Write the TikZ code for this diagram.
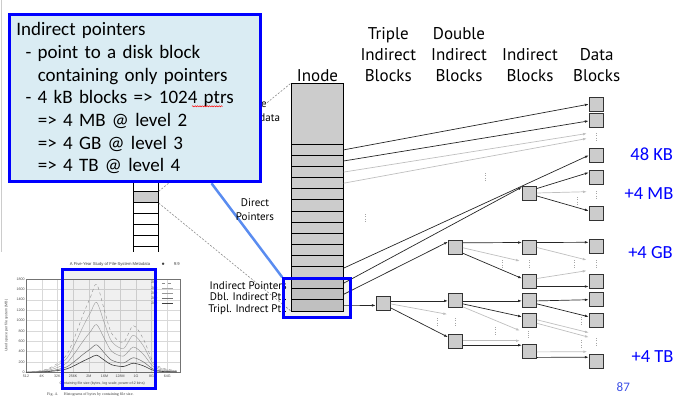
\documentclass[tikz,border=0pt]{standalone}
\usepackage{fontspec}
\setmainfont{Carlito}
\newfontfamily\figfont{PT Sans}
\newfontfamily\papersans{Liberation Sans}
\newfontfamily\paperserif{Liberation Serif}
\usetikzlibrary{arrows.meta,positioning,calc,decorations.pathmorphing,backgrounds}
\definecolor{noteblue}{RGB}{218,236,243}
\definecolor{hiblue}{RGB}{0,0,255}
\definecolor{linkblue}{RGB}{90,140,240}
\definecolor{blkgray}{RGB}{204,204,204}
\definecolor{pageblue}{RGB}{60,80,230}

\tikzset{
  blk/.style={draw=black!80, fill=blkgray, line width=0.9pt, minimum size=14pt, inner sep=0pt},
  slot/.style={draw=black, fill=blkgray, line width=0.8pt, minimum width=51.6pt, minimum height=11.11pt, inner sep=0pt},
  cell/.style={draw=black, line width=0.9pt, minimum width=25pt, minimum height=11pt, inner sep=0pt},
  ptr/.style={-{Latex[length=4pt,width=2.6pt]}, black!85, line width=0.7pt},
  gptr/.style={ptr, black!25},
  dotsv/.style={black!35, line width=0.9pt, dash pattern=on 0.9pt off 1.4pt},
  zoomline/.style={black!45, line width=0.6pt, dash pattern=on 2pt off 1.5pt},
  lbl/.style={font=\figfont\fontsize{11}{14}\selectfont, inner sep=0pt, align=center},
  colhead/.style={font=\figfont\fontsize{17}{20.85}\selectfont, inner sep=0pt, align=center, anchor=south},
  sizelbl/.style={font=\fontsize{18.5}{20}\selectfont, text=hiblue, inner sep=0pt},
  callout/.style={draw=hiblue, line width=3pt, fill=noteblue, text width=238pt, align=left,
    inner xsep=6.5pt, minimum height=167pt, font=\fontsize{19}{22.7}\selectfont},
  hilite/.style={draw=hiblue, line width=3pt, fill=black, fill opacity=0.06},
  tick/.style={font=\papersans\fontsize{3.6}{4}\selectfont, inner sep=0.5pt, text=black!70},
  yr1/.style={black!45, dashed, line width=0.35pt},
  yr2/.style={black!35, line width=0.4pt},
  yr3/.style={black!40, line width=0.4pt},
  yr4/.style={black!55, line width=0.5pt},
  yr5/.style={black!75, line width=0.6pt},
}

\begin{document}
\begin{tikzpicture}[x=1pt, y=-1pt]
    \useasboundingbox (0,0) rectangle (687,406);
    \draw[black!20, line width=0.8pt] (1.5,0) -- (1.5,252);

    % inode array on the left
    \foreach \k/\c in {1/white,2/white,3/white,4/white,5/blkgray,6/white,7/white,8/white,9/white,10/white} {
        \node[cell, fill=\c] (l\k) at (145.8,{147.7+(\k-0.5)*11}) {};
    }

    % side labels
    \node[lbl, anchor=south] (lmeta) at (258,122) {File\\Metadata};
    \node[lbl, anchor=south] (ldirect) at (255,220.7) {Direct\\Pointers};
    \node[lbl, anchor=base east] (lind) at (287,289) {Indirect Pointers};
    \node[lbl, anchor=base east] (ldbl) at (287,300.7) {Dbl. Indirect Ptr.};
    \node[lbl, anchor=base east] (ltrp) at (287,312) {Tripl. Indrect Ptr.};

    % the inode
    \node[slot, minimum height=61pt] (meta) at (317.5,113.8) {};
    \foreach \k in {1,...,15} {
        \node[slot] (r\k) at (317.5,{144.3+(\k-0.5)*11.11}) {};
    }
    \draw[zoomline] (l5.north east) -- (meta.north west);
    \draw[zoomline] (l5.south east) -- (r15.south west);

    % blocks
    \foreach \n/\y in {1/104.2,2/120.9,3/155.3,4/177.5,5/213.9,6/246.3,7/281.5,8/299.7,9/320.3,10/361.2} {
        \node[blk] (d\n) at (596.3,\y) {};
    }
    \foreach \n/\y in {1/193,2/247.5,3/281.5,4/300.9,5/320.3,6/351.9} {
        \node[blk] (i\n) at (529.5,\y) {};
    }
    \foreach \n/\y in {1/247.8,2/300.9,3/341.2} {
        \node[blk] (dd\n) at (455.5,\y) {};
    }
    \node[blk] (t1) at (383.3,303.9) {};

    % elided blocks
    \foreach \x/\y in {596/133,485/173,596/191,577.7/197,365/214,502/260,529/260,574/260,596/260,
                       437.7/318,455/318,495/327,528.5/330.5,581.7/317,581.7/340,596/338} {
        \draw[dotsv] (\x,\y) -- ++(0,9);
    }

    % free ends of the grey pointers
    \coordinate (g1) at (587,133.5);
    \coordinate (g2) at (587,138.5);
    \coordinate (g3) at (587,191.7);
    \coordinate (g4) at (447.3,314.3);
    \coordinate (g5) at (520,261);
    \coordinate (g6) at (520,330.7);
    \coordinate (g7) at (520,340.7);
    \coordinate (g8) at (586.7,260);
    \coordinate (g9) at (586.7,270.7);
    \coordinate (g10) at (589,332.7);
    \coordinate (g11) at (589,337.3);
    \coordinate (g12) at (587.3,351.7);

    % direct pointers
    \draw[ptr] (r1.east) -- (d1.west);
    \draw[ptr] (r2.east) -- (d2.west);
    \draw[gptr] (r3.east) -- (g1);
    \draw[gptr] (r4.east) -- (g2);
    \draw[ptr] ([yshift=-2pt]r12.north east) -- (d3.west);

    % indirect pointers
    \draw[ptr] (r13.east) -- ([yshift=6pt]i1.west);
    \draw[ptr] (r14.east) -- ([yshift=6pt]dd1.west);
    \draw[ptr] (r15.east) -- ([yshift=-1.5pt]t1.west);

    % triple
    \draw[ptr] ([yshift=3pt]t1.east) -- (dd2.west);
    \draw[gptr] (t1.east) -- (g4);
    \draw[ptr] ([yshift=-4pt]t1.east) -- ([yshift=4pt]dd3.west);

    % double
    \draw[ptr] ([yshift=5pt]dd1.east) -- ([yshift=5pt]i2.west);
    \draw[gptr] (dd1.east) -- (g5);
    \draw[ptr] ([yshift=-5.5pt]dd1.east) -- ([yshift=3pt]i3.west);
    \draw[ptr] (dd2.east) -- (i4.west);
    \draw[ptr] ([yshift=-3pt]dd2.east) -- ([yshift=3.5pt]i5.west);
    \draw[gptr] ([yshift=-6pt]dd2.east) -- (g6);
    \draw[gptr] ([yshift=0.5pt]dd3.east) -- (g7);
    \draw[ptr] ([yshift=-4pt]dd3.east) -- ([yshift=6.7pt]i6.west);

    % single
    \draw[ptr] ([yshift=4.5pt]i1.east) -- ([yshift=5pt]d4.west);
    \draw[gptr] (i1.east) -- (g3);
    \draw[ptr] ([yshift=-3pt]i1.east) -- ([yshift=3pt]d5.west);
    \draw[ptr] ([yshift=5pt]i2.east) -- ([yshift=4pt]d6.west);
    \draw[gptr] (i2.east) -- (g8);
    \draw[gptr] ([yshift=3pt]i3.east) -- (g9);
    \draw[ptr] ([yshift=-5pt]i3.east) -- ([yshift=-5pt]d7.west);
    \draw[ptr] (i4.east) -- (d8.west);
    \draw[ptr] ([yshift=-3pt]i4.east) -- ([yshift=3.5pt]d9.west);
    \draw[gptr] ([yshift=0.5pt]i5.east) -- (g10);
    \draw[gptr] ([yshift=-3pt]i5.east) -- (g11);
    \draw[gptr] (i6.east) -- (g12);
    \draw[ptr] ([yshift=-5.5pt]i6.east) -- ([yshift=4pt]d10.west);

    % column heads
    \node[colhead] (hinode) at (317.5,81.7) {Inode};
    \node[colhead] (htriple) at (388.3,81.7) {Triple\\Indirect\\Blocks};
    \node[colhead] (hdouble) at (459,81.7) {Double\\Indirect\\Blocks};
    \node[colhead] (hind) at (530,81.7) {Indirect\\Blocks};
    \node[colhead] (hdata) at (596.7,81.7) {Data\\Blocks};

    % sizes
    \node[sizelbl] (s48k) at (651.7,154.3) {48 KB};
    \node[sizelbl] (s4m) at (649,193.3) {+4 MB};
    \node[sizelbl] (s4g) at (650.5,253) {+4 GB};
    \node[sizelbl] (s4t) at (652.5,357) {+4 TB};
    \node[font=\fontsize{13}{14}\selectfont, text=pageblue, inner sep=0pt] (pnum) at (623.3,387.5) {87};

    % highlight and callout
    \node[hilite, minimum width=66.8pt, minimum height=38.3pt, inner sep=0pt] (hl) at (317.1,297.85) {};
    \node[callout, minimum width=251pt] (note) at (135.3,98.3) {Indirect pointers\\
        \hspace*{9.3pt}- point to a disk block\\
        \hspace*{21.5pt}containing only pointers\\
        \hspace*{9.3pt}- 4 kB blocks => 1024 ptrs\\
        \hspace*{21.5pt}=> 4 MB @ level 2\\
        \hspace*{21.5pt}=> 4 GB @ level 3\\
        \hspace*{21.5pt}=> 4 TB @ level 4};
    \begin{pgfonlayer}{background}
        \draw[linkblue, line width=2.5pt] ($(note.south west)!0.8!(note.south east)$) -- (hl.north west);
    \end{pgfonlayer}
    \draw[red, line width=0.5pt, decorate, decoration={snake, amplitude=0.55pt, segment length=2.4pt}]
        (192,106.3) -- (222.5,106.3);

    % histogram from the paper
    \fill[white] (0,251.5) rectangle (186,404);
    \node[font=\papersans\fontsize{4.2}{5}\selectfont, inner sep=0pt, text=black!75] (htitle) at (110,264) {A Five-Year Study of File-System Metadata};
    \node[font=\papersans\fontsize{4.2}{5}\selectfont, inner sep=0pt, text=black!75] (hdot) at (163.3,264) {$\bullet$};
    \node[font=\papersans\fontsize{4.2}{5}\selectfont, inner sep=0pt, text=black!75] (hpage) at (176.7,264) {9:9};
    \begin{scope}[shift={(26,372.3)}, x=15.7pt, y=0.05183pt]
        \foreach \i in {1,...,9} \draw[black!15, line width=0.3pt] (\i,0) -- (\i,1800);
        \foreach \v in {200,400,...,1600} \draw[black!15, line width=0.3pt] (0,\v) -- (9.81,\v);
        \draw[black!55, line width=0.4pt] (0,0) rectangle (9.81,1800);
        \foreach \v in {0,200,...,1800} \node[tick, anchor=east] (yt\v) at (-0.05,\v) {\v};
        \foreach \i/\t in {0/512,1/4K,2/32K,3/256K,4/2M,5/16M,6/128M,7/1G,8/8G,9/64G}
            \node[tick, anchor=north] (xt\i) at (\i,-30) {\t};
        \node[tick, rotate=90] (ylab) at (-1.25,900) {Used space per file system (MB)};
        \node[tick] (xlab) at (4.85,-212) {Containing file size (bytes, log scale, power-of-2 bins)};
        \node[font=\paperserif\fontsize{4}{5}\selectfont, inner sep=0pt, text=black!75] (hcap) at (4.1,-438)
            {Fig. 4.\hspace{6pt}Histograms of bytes by containing file size.};
        % five years
        \foreach \p [count=\n] in {1700,1350,920,530,330} {
            \draw[yr\n, yscale=\p] plot[smooth] coordinates {(0,0) (1,0.02) (1.5,0.05) (2,0.1) (2.6,0.2)
                (3.1,0.4) (3.65,0.66) (4.1,0.85) (4.5,1) (5,0.7) (5.46,0.44) (6.2,0.34) (6.83,0.53)
                (7.47,0.38) (8.1,0.12) (8.75,0.045) (9.6,0.02)};
            \node[tick, anchor=east] (leg\n) at (8.41,{1825-\n*97}) {200};
            \draw[yr\n] (8.66,{1825-\n*97}) -- (9.36,{1825-\n*97});
        }
    \end{scope}
    \draw[hilite] (62.5,269.2) rectangle (155.8,388.5);
\end{tikzpicture}
\end{document}
